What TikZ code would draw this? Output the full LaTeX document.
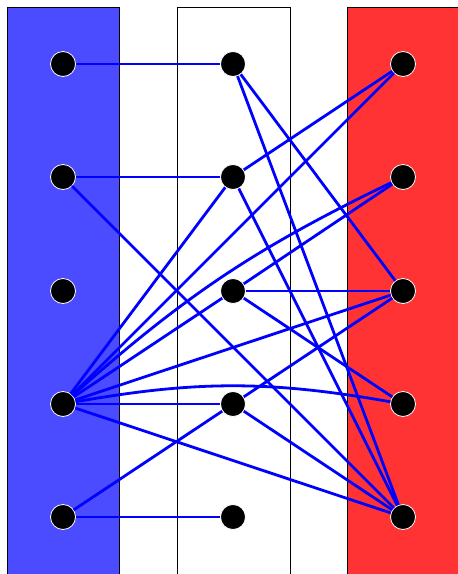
\documentclass[tikz,border=0pt]{standalone}
\definecolor{flagblue}{RGB}{75,75,255}
\definecolor{flagred}{RGB}{255,51,51}
\definecolor{edgeblue}{RGB}{0,0,255}
\begin{document}
\begin{tikzpicture}[x=1pt,y=-1pt,
  dot/.style={circle,fill=black,draw=white,line width=0.8pt,minimum size=25pt,inner sep=0pt},
  band/.style={draw=black,line width=0.8pt},
  edge/.style={draw=edgeblue,line width=2.8pt}]
\useasboundingbox (0,0) rectangle (458,574);
\fill[white] (0,0) rectangle (458,574);
\path[band,fill=flagblue] (7,7) rectangle (119.5,580);
\path[band,fill=white] (177,7) rectangle (290,580);
\path[band,fill=flagred] (347,7) rectangle (470,580);
\foreach \i/\y in {1/64,2/177,3/291,4/404,5/517}{
  \node[dot] (L\i) at (63,\y) {};
  \node[dot] (M\i) at (233,\y) {};
  \node[dot] (R\i) at (403,\y) {};
}
\path[edge] (L1) -- (M1);
\path[edge] (L2) -- (M2);
\path[edge] (L2) -- (R5);
\path[edge] (L4) -- (M2);
\path[edge] (L4) -- (R1);
\path[edge] (L4) to[bend left=8] (R2);
\path[edge] (L4) -- (M3);
\path[edge] (L4) -- (R3);
\path[edge] (L4) to[bend left=10] (R4);
\path[edge] (L4) -- (M4);
\path[edge] (L4) -- (R5);
\path[edge] (L5) -- (M4);
\path[edge] (L5) -- (M5);
\path[edge] (M1) -- (R3);
\path[edge] (M1) -- (R5);
\path[edge] (M2) -- (R1);
\path[edge] (M2) -- (R5);
\path[edge] (M3) -- (R2);
\path[edge] (M3) -- (R3);
\path[edge] (M3) -- (R4);
\path[edge] (M4) -- (R3);
\path[edge] (M4) -- (R5);
\end{tikzpicture}
\end{document}
